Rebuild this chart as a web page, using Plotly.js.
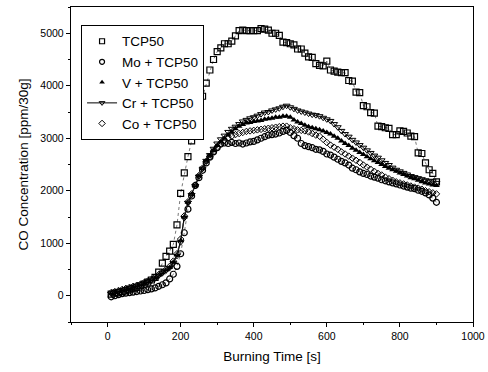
<!DOCTYPE html>
<html>
<head>
<meta charset="utf-8">
<script src="https://cdn.plot.ly/plotly-3.0.1.min.js"></script>
<style>html,body{margin:0;padding:0;background:#fff;}#chart{width:488px;height:372px;}</style>
</head>
<body>
<div id="chart"></div>
<script>
const time = [10,20,30,40,50,60,70,80,90,100,110,120,130,140,150,160,170,180,190,200,
  210,220,230,240,250,260,270,280,290,300,310,320,330,340,350,360,370,380,390,400,
  410,420,430,440,450,460,470,480,490,500,510,520,530,540,550,560,570,580,590,600,
  610,620,630,640,650,660,670,680,690,700,710,720,730,740,750,760,770,780,790,800,
  810,820,830,840,850,860,870,880,890,900];

const tcp50 = [30,50,60,80,100,120,140,160,190,220,260,300,350,450,620,750,850,980,1350,1950,
  2340,2650,2950,3300,3550,3800,4050,4300,4500,4650,4720,4800,4800,4850,4950,5050,5060,5050,5050,5050,
  5050,5090,5080,5060,5000,5000,4960,4830,4820,4800,4780,4700,4700,4620,4550,4540,4420,4390,4380,4470,
  4300,4280,4260,4250,4250,4100,4090,3880,3870,3620,3600,3490,3480,3230,3220,3200,3190,3070,3070,3140,
  3130,3100,3040,3030,2720,2710,2530,2400,2330,2170];

const moTcp50 = [-20,0,20,40,50,60,70,80,90,100,115,130,150,180,210,245,320,410,560,800,
  1200,1650,1900,2100,2250,2390,2530,2640,2740,2820,2890,2910,2900,2920,2900,2910,2890,2910,2930,2940,
  2970,3000,3030,3060,3070,3080,3100,3130,3150,3110,3050,3000,2900,2860,2840,2820,2790,2780,2750,2700,
  2680,2640,2600,2560,2530,2490,2430,2400,2360,2330,2310,2280,2260,2240,2210,2190,2170,2150,2130,2110,
  2090,2070,2050,2040,2010,1990,1960,1920,1860,1780];

const vTcp50 = [50,70,90,110,130,150,170,190,210,240,270,300,340,390,440,490,540,640,780,1050,
  1500,1780,1930,2100,2280,2420,2560,2660,2760,2860,2930,3000,3060,3120,3180,3230,3260,3290,3300,3320,
  3330,3340,3360,3370,3380,3400,3400,3420,3420,3400,3350,3310,3280,3250,3220,3200,3180,3160,3140,3110,
  3080,3040,3000,2950,2900,2860,2810,2770,2730,2690,2650,2610,2570,2540,2500,2460,2430,2400,2370,2340,
  2310,2280,2250,2230,2200,2170,2150,2130,2110,2100];

const crTcp50 = [40,60,80,100,120,140,160,180,200,230,260,290,330,380,430,480,530,620,760,1020,
  1480,1770,1920,2090,2270,2420,2570,2680,2800,2900,2980,3050,3120,3180,3220,3270,3320,3350,3380,3400,
  3430,3460,3490,3500,3530,3550,3570,3600,3620,3590,3560,3530,3510,3490,3470,3450,3440,3420,3390,3360,
  3330,3270,3210,3140,3080,3030,2970,2920,2870,2820,2770,2720,2670,2630,2580,2530,2490,2440,2400,2370,
  2340,2310,2280,2260,2240,2220,2200,2190,2180,2150];

const coTcp50 = [60,80,100,120,140,160,180,200,220,250,280,310,350,400,450,500,560,660,800,1080,
  1520,1790,1940,2110,2290,2430,2560,2650,2740,2830,2900,2960,3000,3040,3070,3090,3110,3130,3140,3150,
  3160,3170,3180,3190,3200,3210,3220,3230,3230,3200,3180,3160,3150,3140,3120,3090,3060,3040,2980,2920,
  2870,2830,2790,2740,2700,2660,2620,2580,2540,2490,2450,2410,2370,2330,2300,2260,2230,2200,2170,2150,
  2130,2110,2090,2070,2050,2030,2000,1980,1960,1940];

const seriesNames = ['TCP50', 'Mo + TCP50', 'V + TCP50', 'Cr + TCP50', 'Co + TCP50'];
const xTicks = [0, 200, 400, 600, 800, 1000];
const yTicks = [0, 1000, 2000, 3000, 4000, 5000];

const seriesY = [tcp50, moTcp50, vTcp50, crTcp50, coTcp50];
const lineStyles = [
  {color: '#555', width: 0.8, dash: 'dot'},
  {color: '#555', width: 0.8, dash: 'dot'},
  {color: '#000', width: 1},
  {color: '#000', width: 0.8},
  {color: '#444', width: 0.8, dash: 'dot'}
];
const markerStyles = [
  {symbol: 'square-open', size: 6, color: '#000', line: {width: 1.2}},
  {symbol: 'circle-open', size: 6, color: '#000', line: {width: 1.2}},
  {symbol: 'triangle-up', size: 6, color: '#000'},
  {symbol: 'triangle-down-open', size: 6, color: '#000', line: {width: 1}},
  {symbol: 'diamond-open', size: 5, color: '#000', line: {width: 1}}
];

const traces = [];
seriesY.forEach((ys, i) => {
  traces.push({x: time, y: ys, name: seriesNames[i], mode: 'lines+markers',
    line: lineStyles[i], marker: markerStyles[i], showlegend: false});
});
// legend entries (marker only, Cr with line)
seriesY.forEach((ys, i) => {
  traces.push({x: [null], y: [null], name: seriesNames[i],
    mode: i === 3 ? 'lines+markers' : 'markers',
    line: {color: '#000', width: 1},
    marker: Object.assign({}, markerStyles[i], {size: 5}), showlegend: true});
});

const fontFam = '"Liberation Sans", Arial, sans-serif';
const layout = {
  width: 488, height: 372,
  margin: {l: 71, r: 15, t: 7, b: 50},
  paper_bgcolor: '#fff', plot_bgcolor: '#fff',
  font: {family: fontFam, color: '#000', size: 10.5},
  showlegend: true,
  legend: {x: 0.025, y: 0.943, xanchor: 'left', yanchor: 'top',
    bgcolor: '#fff', bordercolor: '#000', borderwidth: 1,
    font: {family: fontFam, size: 13.5, color: '#000'}, itemwidth: 30, tracegroupgap: 0},
  xaxis: {
    range: [-100, 1000], tickvals: xTicks, ticktext: xTicks.map(String),
    ticks: 'outside', ticklen: 4, tickwidth: 1, tickcolor: '#000',
    minor: {dtick: 100, ticks: 'outside', ticklen: 2, tickcolor: '#000'},
    showline: true, linecolor: '#000', linewidth: 1.2, mirror: true,
    showgrid: false, zeroline: false,
    tickfont: {family: fontFam, size: 10.5, color: '#000'},
    title: {text: 'Burning Time [s]', font: {family: fontFam, size: 13.5, color: '#000'}, standoff: 10}
  },
  yaxis: {
    range: [-500, 5500], tickvals: yTicks, ticktext: yTicks.map(String),
    ticks: 'outside', ticklen: 4, tickwidth: 1, tickcolor: '#000',
    minor: {dtick: 500, ticks: 'outside', ticklen: 2, tickcolor: '#000'},
    showline: true, linecolor: '#000', linewidth: 1.2, mirror: true,
    showgrid: false, zeroline: false,
    tickfont: {family: fontFam, size: 10.5, color: '#000'},
    title: {text: 'CO Concentration [ppm/30g]', font: {family: fontFam, size: 13.5, color: '#000'}, standoff: 8}
  }
};

Plotly.newPlot('chart', traces, layout, {displayModeBar: false, staticPlot: true});
</script>
</body>
</html>
